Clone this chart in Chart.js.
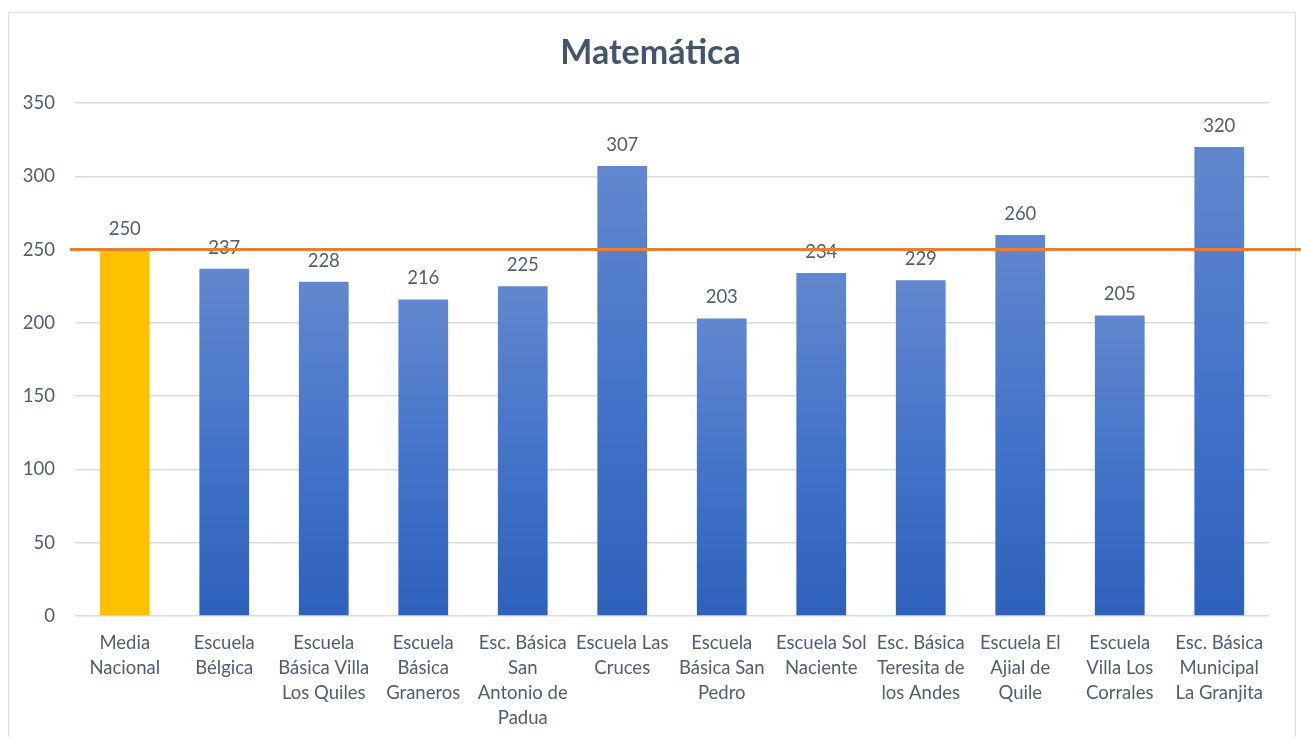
<!DOCTYPE html>
<html>
<head>
<meta charset="utf-8">
<script src="https://cdn.jsdelivr.net/npm/chart.js@4"></script>
<style>
    body { margin: 0; background: #ffffff; overflow: hidden; }
    #frame { position: absolute; left: 8px; top: 12px; width: 1286px; height: 800px; border: 1px solid #DADDE3; }
    #wrap { position: absolute; left: 0; top: 0; width: 1301px; height: 737px; }
</style>
</head>
<body>
<div id="frame"></div>
<div id="wrap"><canvas id="chart" width="1301" height="737"></canvas></div>
<script>
// Data
const schools = [
    ['Media', 'Nacional'],
    ['Escuela', 'Bélgica'],
    ['Escuela', 'Básica Villa', 'Los Quiles'],
    ['Escuela', 'Básica', 'Graneros'],
    ['Esc. Básica', 'San', 'Antonio de', 'Padua'],
    ['Escuela Las', 'Cruces'],
    ['Escuela', 'Básica San', 'Pedro'],
    ['Escuela Sol', 'Naciente'],
    ['Esc. Básica', 'Teresita de', 'los Andes'],
    ['Escuela El', 'Ajial de', 'Quile'],
    ['Escuela', 'Villa Los', 'Corrales'],
    ['Esc. Básica', 'Municipal', 'La Granjita']
];
const scores = [250, 237, 228, 216, 225, 307, 203, 234, 229, 260, 205, 320];
const mediaNacional = 250;
const yTicks = [0, 50, 100, 150, 200, 250, 300, 350];
const chartTitle = 'Matemática';

const textColor = '#525D6F';
const fontFamily = 'Lato, "Noto Sans", sans-serif';

// Blue gradient per bar, lighter at the top
function barColor(context) {
    if (context.dataIndex === 0) return '#FFC000';
    const chart = context.chart;
    const yScale = chart.scales.y;
    if (!yScale || !chart.chartArea) return '#4472C4';
    const top = yScale.getPixelForValue(context.raw);
    const bottom = yScale.getPixelForValue(0);
    const grad = chart.ctx.createLinearGradient(0, top, 0, bottom);
    grad.addColorStop(0, '#6287CE');
    grad.addColorStop(0.5, '#4474CA');
    grad.addColorStop(1, '#2E61BC');
    return grad;
}

// Title centred on the whole canvas, not just the plot area
const centredTitle = {
    id: 'centredTitle',
    afterDraw(chart) {
        const ctx = chart.ctx;
        ctx.save();
        ctx.font = 'bold 34px ' + fontFamily;
        ctx.fillStyle = '#44546A';
        ctx.textAlign = 'center';
        ctx.textBaseline = 'alphabetic';
        ctx.fillText(chartTitle, chart.width / 2, chart.chartArea.top - 39);
        ctx.restore();
    }
};

// Value labels above each bar
const valueLabels = {
    id: 'valueLabels',
    afterDatasetsDraw(chart) {
        const ctx = chart.ctx;
        const meta = chart.getDatasetMeta(0);
        ctx.save();
        ctx.font = '18.5px ' + fontFamily;
        ctx.fillStyle = textColor;
        ctx.textAlign = 'center';
        ctx.textBaseline = 'middle';
        meta.data.forEach((bar, i) => {
            ctx.fillText(String(scores[i]), bar.x, bar.y - 21);
        });
        ctx.restore();
    }
};

// National average line, runs past the plot area to the right edge
const averageLine = {
    id: 'averageLine',
    afterDraw(chart) {
        const ctx = chart.ctx;
        const y = chart.scales.y.getPixelForValue(mediaNacional);
        ctx.save();
        ctx.strokeStyle = '#ED7D31';
        ctx.lineWidth = 3;
        ctx.beginPath();
        ctx.moveTo(chart.chartArea.left - 5, y);
        ctx.lineTo(chart.width, y);
        ctx.stroke();
        ctx.restore();
    }
};

new Chart(document.getElementById('chart'), {
    type: 'bar',
    data: {
        labels: schools,
        datasets: [{
            data: scores,
            backgroundColor: barColor,
            borderWidth: 0,
            barPercentage: 0.5,
            categoryPercentage: 1
        }]
    },
    options: {
        responsive: false,
        animation: false,
        layout: { padding: { left: 0, right: 32, top: 0, bottom: 0 } },
        plugins: {
            legend: { display: false },
            tooltip: { enabled: false },
            title: {
                // keeps the space above the plot; the visible title is drawn by centredTitle
                display: true,
                text: chartTitle,
                color: 'rgba(0,0,0,0)',
                font: { family: fontFamily, size: 30, weight: 'bold', lineHeight: 1.2 },
                padding: { top: 35, bottom: 32 }
            }
        },
        scales: {
            x: {
                grid: { display: false },
                border: { display: false },
                ticks: {
                    color: textColor,
                    font: { family: fontFamily, size: 18.5, lineHeight: 1.35 },
                    padding: 7,
                    maxRotation: 0,
                    autoSkip: false
                },
                afterFit(scale) { scale.height = 121; }
            },
            y: {
                min: 0,
                max: 350,
                afterBuildTicks(scale) { scale.ticks = yTicks.map(v => ({ value: v })); },
                grid: { color: '#D9DCE2', lineWidth: 1.5, drawTicks: false },
                border: { display: false },
                ticks: {
                    color: textColor,
                    font: { family: fontFamily, size: 18.5 },
                    padding: 20
                },
                afterFit(scale) { scale.width = 75; }
            }
        }
    },
    plugins: [valueLabels, averageLine, centredTitle]
});
</script>
</body>
</html>
